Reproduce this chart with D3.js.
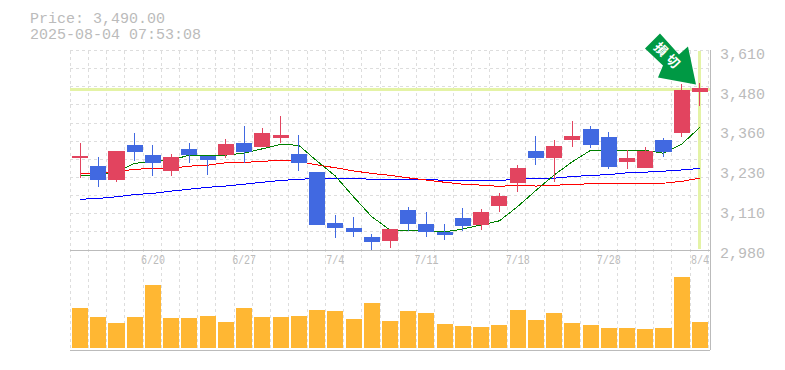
<!DOCTYPE html>
<html>
<head>
<meta charset="utf-8">
<script src="https://cdn.jsdelivr.net/npm/d3@7"></script>
<style>
  html, body { margin: 0; padding: 0; background: #fff; }
  svg { display: block; }
  text { font-family: "Liberation Mono", monospace; fill: #bbb; }
</style>
</head>
<body>
<svg id="chart" width="785" height="370"></svg>
<script>
const priceLabel = 'Price: 3,490.00';
const stampLabel = '2025-08-04 07:53:08';
const currentPrice = 3490;
const signalLabels = ['損', '切'];

const opens = [3273, 3248, 3203, 3314, 3282, 3232, 3301, 3279, 3282, 3320, 3308, 3336, 3286, 3229, 3067, 3051, 3023, 3010,
  3108, 3064, 3039, 3083, 3061, 3121, 3194, 3295, 3273, 3330, 3365, 3339, 3260, 3241, 3330, 3352, 3482];
const highs = [3321, 3276, 3295, 3352, 3314, 3286, 3320, 3279, 3333, 3374, 3368, 3406, 3346, 3229, 3092, 3086, 3032, 3048,
  3118, 3102, 3064, 3115, 3111, 3162, 3251, 3343, 3330, 3390, 3374, 3355, 3298, 3308, 3336, 3507, 3510];
const lows = [3210, 3181, 3197, 3263, 3216, 3216, 3257, 3219, 3273, 3257, 3308, 3320, 3232, 3061, 3020, 3023, 2980, 2988,
  3042, 3023, 3013, 3042, 3045, 3102, 3165, 3251, 3197, 3308, 3304, 3238, 3238, 3241, 3276, 3339, 3437];
const closes = [3279, 3203, 3295, 3292, 3257, 3276, 3282, 3267, 3317, 3292, 3352, 3346, 3257, 3061, 3051, 3039, 3007, 3048,
  3064, 3039, 3029, 3058, 3102, 3153, 3241, 3273, 3311, 3343, 3314, 3244, 3273, 3295, 3292, 3488, 3494];

const maShort = [3218, 3219, 3228, 3256, 3261, 3266, 3282, 3280, 3282, 3288, 3302, 3316, 3313, 3263, 3216, 3150, 3087, 3045,
  3043, 3043, 3039, 3048, 3061, 3074, 3119, 3170, 3219, 3261, 3297, 3297, 3297, 3297, 3288, 3317, 3370];
const maMid = [3225, 3225, 3230, 3237, 3240, 3240, 3247, 3250, 3258, 3259, 3262, 3266, 3262, 3251, 3242, 3232, 3224, 3218,
  3210, 3203, 3196, 3190, 3187, 3183, 3187, 3184, 3187, 3188, 3192, 3192, 3191, 3192, 3193, 3199, 3209];
const maLong = [3142, 3145, 3150, 3157, 3161, 3168, 3174, 3180, 3184, 3190, 3196, 3202, 3205, 3209, 3209, 3209, 3205, 3205,
  3205, 3205, 3202, 3202, 3202, 3202, 3205, 3209, 3209, 3214, 3218, 3220, 3226, 3228, 3231, 3235, 3240];

const volumes = [400, 310, 250, 310, 630, 300, 300, 320, 260, 400, 310, 310, 320, 380, 370, 290, 450, 270,
  370, 350, 240, 220, 210, 230, 380, 280, 350, 250, 230, 200, 200, 190, 200, 710, 260];

const priceTicks = [3610, 3484, 3358, 3232, 3106, 2980];
const priceTickLabels = ['3,610', '3,480', '3,360', '3,230', '3,110', '2,980'];
const dateSlots = [4, 9, 14, 19, 24, 29, 34];
const dateLabels = ['6/20', '6/27', '7/4', '7/11', '7/18', '7/28', '8/4'];

const svg = d3.select('#chart');
const slots = d3.range(opens.length);

const x = d3.scaleBand().domain(slots).range([70.9, 709.1]).paddingInner(0.12).paddingOuter(0.06);
const y = d3.scaleLinear().domain([2980, 3610]).range([250.5, 51.5]);
const yVol = d3.scaleLinear().domain([0, 1000]).range([348, 248]);
const center = i => x(i) + x.bandwidth() / 2;

const UP = '#e2445f';
const DOWN = '#4169e1';
const AXIS = '#bbb';

// grid, horizontal part only covers the price pane
const grid = svg.append('g').attr('shape-rendering', 'crispEdges')
  .attr('stroke', '#ddd').attr('stroke-dasharray', '3,3');
grid.selectAll('.gh').data(d3.range(12)).enter().append('line')
  .attr('x1', 70).attr('x2', 709)
  .attr('y1', i => y(2980 + i * 630 / 11) - 0.5 - 0.05 * i)
  .attr('y2', i => y(2980 + i * 630 / 11) - 0.5 - 0.05 * i);
grid.selectAll('.gv').data(d3.range(36)).enter().append('line')
  .attr('x1', i => center(0) - 9.9 + i * x.step())
  .attr('x2', i => center(0) - 9.9 + i * x.step())
  .attr('y1', 51).attr('y2', 350);

// current price cross hair
const cross = svg.append('g').attr('stroke', '#e4f3a6').attr('stroke-width', 3).attr('shape-rendering', 'crispEdges');
cross.append('line').attr('x1', 70).attr('x2', 710).attr('y1', y(currentPrice)).attr('y2', y(currentPrice));
cross.append('line').attr('x1', center(34)).attr('x2', center(34)).attr('y1', 51).attr('y2', 249);

// moving averages
const maLine = d3.line().x((d, i) => center(i)).y(d => y(d));
svg.append('g').attr('fill', 'none').attr('shape-rendering', 'crispEdges')
  .selectAll('path')
  .data([{ v: maLong, c: '#0000ff' }, { v: maMid, c: '#ff0000' }, { v: maShort, c: '#008000' }])
  .enter().append('path')
  .attr('d', d => maLine(d.v))
  .attr('stroke', d => d.c);

// candles
const candles = svg.append('g').attr('shape-rendering', 'crispEdges')
  .selectAll('g').data(slots).enter().append('g');
const colorOf = i => (closes[i] >= opens[i] ? UP : DOWN);
candles.append('line')
  .attr('x1', center).attr('x2', center)
  .attr('y1', i => y(highs[i])).attr('y2', i => y(lows[i]))
  .attr('stroke', colorOf);
candles.append('rect')
  .attr('x', i => x(i))
  .attr('width', x.bandwidth())
  .attr('y', i => y(Math.max(opens[i], closes[i])))
  .attr('height', i => Math.abs(y(opens[i]) - y(closes[i])))
  .attr('fill', colorOf);

// volume
svg.append('g').selectAll('rect').data(volumes).enter().append('rect')
  .attr('shape-rendering', 'crispEdges')
  .attr('x', (d, i) => x(i))
  .attr('width', x.bandwidth())
  .attr('y', d => yVol(d))
  .attr('height', d => yVol(0) - yVol(d))
  .attr('fill', '#ffb733');

// pane borders
const frame = svg.append('g').attr('stroke', AXIS).attr('shape-rendering', 'crispEdges');
frame.append('line').attr('x1', 70).attr('x2', 710).attr('y1', 250).attr('y2', 250);
frame.append('line').attr('x1', 70).attr('x2', 710).attr('y1', 350).attr('y2', 350);
frame.append('line').attr('x1', 710).attr('x2', 710).attr('y1', 50).attr('y2', 350);

// axes
const priceAxis = d3.axisRight(y).tickValues(priceTicks).tickSize(0).tickPadding(0)
  .tickFormat((d, i) => priceTickLabels[i]);
const gPrice = svg.append('g').attr('transform', 'translate(720,2)').call(priceAxis);
gPrice.select('.domain').remove();
gPrice.selectAll('text').style('font-size', '15px').style('font-family', '"Liberation Mono", monospace').attr('fill', '#bbb');

const dateAxis = d3.axisBottom(x).tickValues(dateSlots).tickSize(0).tickPadding(0)
  .tickFormat((d, i) => dateLabels[i]);
const gDate = svg.append('g').attr('transform', 'translate(0,255)').call(dateAxis);
gDate.select('.domain').remove();
gDate.selectAll('text')
  .style('font-size', '13px').style('font-family', '"Liberation Mono", monospace').attr('fill', '#bbb')
  .attr('textLength', (d, i) => dateLabels[i].length * 6)
  .attr('lengthAdjust', 'spacingAndGlyphs');

// header, 14px stretched to the 9px pitch so the two lines stay clear of each other
svg.selectAll('.head').data([priceLabel, stampLabel]).enter().append('text')
  .attr('x', 30)
  .attr('y', (d, i) => 22.5 + i * 16)
  .attr('textLength', d => d.length * 9)
  .attr('lengthAdjust', 'spacingAndGlyphs')
  .style('font-size', '14px')
  .text(d => d);

// signal arrow, tip sits just above the last candle
const arrowShape = [[0, 0], [-8, -38], [-17, -30], [-36, -51], [-51, -36], [-33, -19], [-38, -7]];
const arrow = svg.append('g')
  .attr('transform', `translate(${center(34) - 4},${y(currentPrice) - 5})`);
arrow.append('path')
  .attr('d', d3.line()(arrowShape) + 'Z')
  .attr('fill', '#009944');
arrow.selectAll('text').data(signalLabels).enter().append('text')
  .attr('transform', (d, i) => `translate(${-35 + i * 12},${-35 + i * 12}) rotate(45)`)
  .attr('text-anchor', 'middle')
  .attr('dy', '0.36em')
  .style('font-family', '"Noto Sans CJK JP", sans-serif')
  .style('font-weight', 700)
  .style('font-size', '13px')
  .style('fill', '#fff')
  .text(d => d);
</script>
</body>
</html>
